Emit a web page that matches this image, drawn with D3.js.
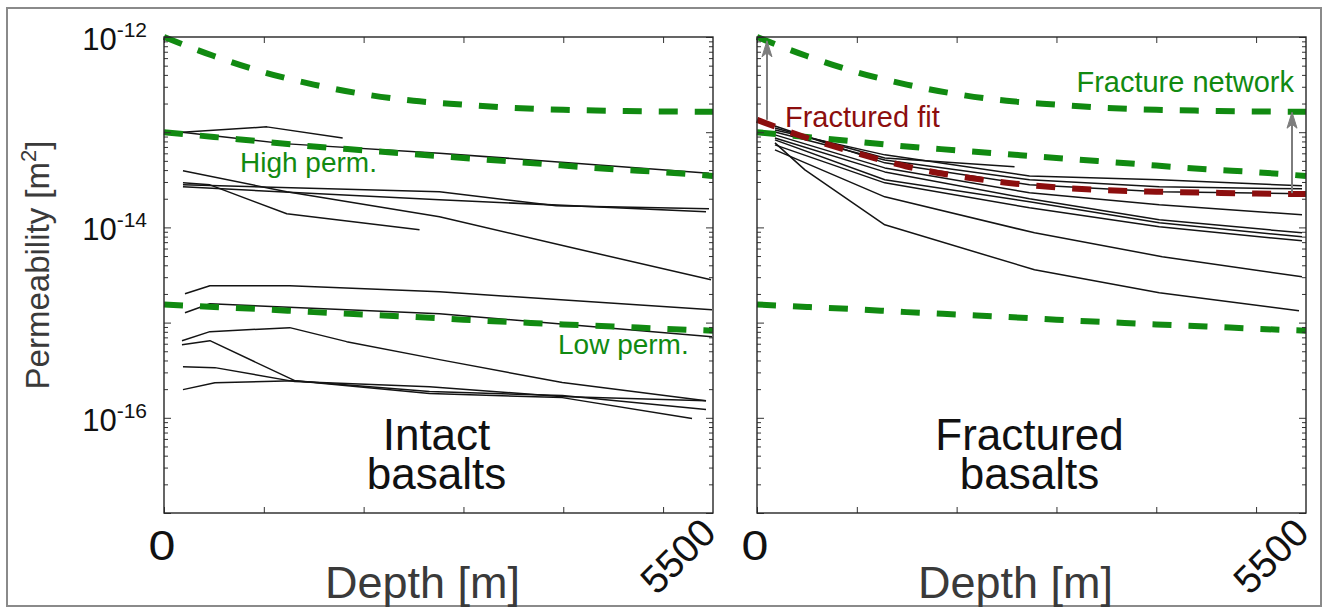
<!DOCTYPE html>
<html><head><meta charset="utf-8">
<script src="https://cdn.jsdelivr.net/npm/d3@7"></script>
<style>
body{margin:0;background:#fff}
svg{display:block}
text{font-family:"Liberation Sans",Arial,Helvetica,sans-serif}
</style>
</head><body>
<svg id="c" width="1328" height="608"></svg>
<script>
// ---------------- data (depth in m, permeability as log10 of m^2) ----------------
const depthGrid = [0,500,1000,1500,2000,2500,3000,3500,4000,4500,5000,5500];
const fractureNetworkLogK = [-12.00,-12.20,-12.37,-12.50,-12.60,-12.67,-12.71,-12.745,-12.765,-12.775,-12.782,-12.785];
const highPermLogK = [-13.00,-13.05,-13.10,-13.15,-13.19,-13.23,-13.27,-13.31,-13.35,-13.39,-13.42,-13.46];
const lowPermLogK = [-14.81,-14.835,-14.86,-14.89,-14.915,-14.94,-14.97,-14.995,-15.02,-15.04,-15.065,-15.085];
const fracturedFitLogK = [-12.87,-13.06,-13.22,-13.36,-13.46,-13.53,-13.58,-13.61,-13.625,-13.635,-13.645,-13.65];

const intactLines = [
  [[180,-13.0],[1030,-12.944],[1790,-13.06]],
  [[180,-13.0],[1200,-13.12],[2760,-13.22],[5460,-13.43]],
  [[190,-13.406],[1230,-13.626],[2760,-13.889],[4090,-14.214],[5480,-14.55]],
  [[190,-13.532],[460,-13.553],[1230,-13.857],[2560,-14.025]],
  [[190,-13.553],[2760,-13.626],[3930,-13.773],[5460,-13.805]],
  [[190,-13.574],[2760,-13.71],[5430,-13.836]],
  [[210,-14.697],[460,-14.613],[1260,-14.613],[2760,-14.676],[5490,-14.865]],
  [[210,-14.896],[460,-14.802],[2760,-14.907],[5490,-15.148]],
  [[180,-15.19],[460,-15.095],[1260,-15.053],[1830,-15.2],[2760,-15.389],[3990,-15.63],[5430,-15.82]],
  [[180,-15.232],[460,-15.19],[1310,-15.61],[2660,-15.746],[3990,-15.788],[5290,-16.008]],
  [[190,-15.463],[510,-15.473],[1310,-15.62],[2660,-15.673],[3970,-15.777],[5430,-15.82]],
  [[190,-15.704],[510,-15.631],[1310,-15.61],[2660,-15.725],[3990,-15.767],[5430,-15.914]]
];

const fracturedLines = [
  [[180,-12.955],[1280,-13.27],[2580,-13.364]],
  [[180,-12.976],[1280,-13.238],[2730,-13.459],[4030,-13.50],[5460,-13.563]],
  [[180,-12.997],[1280,-13.291],[2730,-13.50],[4030,-13.574],[5460,-13.595]],
  [[180,-12.934],[1280,-13.322],[2730,-13.553],[4030,-13.626],[5460,-13.647]],
  [[180,-13.028],[1280,-13.375],[2730,-13.637],[4030,-13.763],[5460,-13.868]],
  [[180,-13.06],[1280,-13.417],[2730,-13.70],[4030,-13.92],[5460,-14.057]],
  [[180,-13.081],[1280,-13.50],[2730,-13.731],[4030,-13.952],[5460,-14.099]],
  [[180,-13.133],[1280,-13.532],[2730,-13.794],[4030,-13.994],[5460,-14.141]],
  [[180,-13.186],[1280,-13.679],[2780,-14.057],[4060,-14.308],[5460,-14.518]],
  [[180,-13.112],[480,-13.396],[1280,-13.973],[2780,-14.445],[4030,-14.686],[5430,-14.875]]
];

const xTickValues = [0,1000,2000,3000,4000,5000];
const xLabelValues = [0,5500];
const xLabelTexts = ["0","5500"];
const yLabelExponents = [-12,-14,-16];
const arrowDepths = [100,5360];
const arrowFromLogK = [-12.87,-13.64];
const arrowToLogK = [-12.04,-12.79];
const panelTitles = [["Intact","basalts"],["Fractured","basalts"]];

// ---------------- drawing ----------------
const svg = d3.select("#c");
const GREEN = "#118a11", RED = "#8c0e0e", GRAY = "#7d7d7d", INK = "#141414";
const K = v => Math.pow(10, v);

svg.append("rect").attr("x",7).attr("y",8).attr("width",1314).attr("height",598)
  .attr("fill","none").attr("stroke","#8a8a8a").attr("stroke-width",2);

const yTop = 37, yBottom = 513;
const y = d3.scaleLog().domain([1e-17,1e-12]).range([yBottom, yTop]);
const panels = [{x0:164,x1:713},{x0:757,x1:1306}];

const majorY = d3.range(-17,-11).map(K);
const minorY = [];
for (let e=-17; e<-12; e++) for (let m=2; m<=9; m++) minorY.push(m*K(e));

panels.forEach((p,i) => {
  const x = d3.scaleLinear().domain([0,5500]).range([p.x0,p.x1]);
  const g = svg.append("g");
  const line = d3.line().x(d=>x(d[0])).y(d=>y(K(d[1])));
  const smooth = d3.line().curve(d3.curveMonotoneX).x(d=>x(d[0])).y(d=>y(K(d[1])));

  g.selectAll(null).data(i===0 ? intactLines : fracturedLines).join("path")
    .attr("d", line).attr("fill","none").attr("stroke", INK).attr("stroke-width",1.5)
    .attr("stroke-linejoin","round");

  [fractureNetworkLogK, highPermLogK, lowPermLogK].forEach(arr => {
    g.append("path").datum(depthGrid.map((d,j)=>[d,arr[j]]))
      .attr("d", smooth)
      .attr("fill","none").attr("stroke",GREEN).attr("stroke-width",6)
      .attr("stroke-dasharray","19,17");
  });

  if (i===1) {
    g.append("path").datum(depthGrid.map((d,j)=>[d,fracturedFitLogK[j]]))
      .attr("d", smooth)
      .attr("fill","none").attr("stroke",RED).attr("stroke-width",6)
      .attr("stroke-dasharray","19,17");
    arrowDepths.forEach((d,j) => {
      const ax = x(d), y0 = y(K(arrowFromLogK[j])), y1 = y(K(arrowToLogK[j]));
      g.append("line").attr("x1",ax).attr("x2",ax).attr("y1",y0).attr("y2",y1+8)
        .attr("stroke",GRAY).attr("stroke-width",2);
      g.append("path").attr("d",`M${ax},${y1} L${ax-5},${y1+16} L${ax},${y1+12} L${ax+5},${y1+16} Z`)
        .attr("fill",GRAY).attr("stroke",GRAY).attr("stroke-width",1);
    });
  }

  const axes = svg.append("g");
  const tick = (gen, tx, ty) => {
    const a = axes.append("g").attr("transform",`translate(${tx},${ty})`).call(gen);
    a.select(".domain").remove();
    a.selectAll("line").attr("stroke","#333").attr("stroke-width",1);
    a.selectAll("text").remove();
  };
  tick(d3.axisBottom(x).tickValues(xTickValues).tickSize(-6), 0, yBottom);
  tick(d3.axisTop(x).tickValues(xTickValues).tickSize(-6), 0, yTop);
  tick(d3.axisLeft(y).tickValues(majorY).tickSize(-7), p.x0, 0);
  tick(d3.axisLeft(y).tickValues(minorY).tickSize(-4), p.x0, 0);
  tick(d3.axisRight(y).tickValues(majorY).tickSize(-7), p.x1, 0);
  tick(d3.axisRight(y).tickValues(minorY).tickSize(-4), p.x1, 0);

  axes.append("rect").attr("x",p.x0).attr("y",yTop).attr("width",p.x1-p.x0).attr("height",yBottom-yTop)
    .attr("fill","none").attr("stroke","#262626").attr("stroke-width",1.4);

  xLabelValues.forEach((v,j) => {
    if (v===0) {
      svg.append("text").attr("transform",`translate(${x(v)-2},560) scale(1.15,1)`)
        .attr("text-anchor","middle")
        .attr("font-size",42).attr("fill","#111").text(xLabelTexts[j]);
    } else {
      svg.append("text").attr("transform",`translate(${x(v)+5},535) rotate(-45)`)
        .attr("text-anchor","end").attr("font-size",39).attr("fill","#111").text(xLabelTexts[j]);
    }
  });

  svg.append("text").attr("x",(p.x0+p.x1)/2-16).attr("y",598).attr("text-anchor","middle")
    .attr("font-size",45).attr("fill","#3a3a3a").text("Depth [m]");

  const cx = (p.x0+p.x1)/2 - 2;
  const title = svg.append("text").attr("text-anchor","middle")
    .attr("font-size",44).attr("fill","#111");
  panelTitles[i].forEach((t,j) => {
    title.append("tspan").attr("x",cx).attr("y",450+j*39).text(t);
  });

  if (i===0) {
    yLabelExponents.forEach(e => {
      const t = svg.append("text").attr("x",147).attr("y",y(K(e))+13).attr("text-anchor","end")
        .attr("fill","#111").attr("font-size",31);
      t.append("tspan").text("10");
      t.append("tspan").attr("dy",-13).attr("font-size",21).text(String(e));
    });
    svg.append("text").attr("x",240).attr("y",172).attr("font-size",28).attr("fill",GREEN)
      .text("High perm.");
    svg.append("text").attr("x",558).attr("y",354).attr("font-size",28).attr("fill",GREEN)
      .text("Low perm.");
  } else {
    svg.append("text").attr("x",1294).attr("y",92).attr("text-anchor","end")
      .attr("font-size",29).attr("fill",GREEN).text("Fracture network");
    svg.append("text").attr("x",785).attr("y",127).attr("font-size",29).attr("fill",RED)
      .text("Fractured fit");
  }
});

const yl = svg.append("text").attr("transform","translate(49,265) rotate(-90)")
  .attr("text-anchor","middle").attr("font-size",33).attr("fill","#3a3a3a");
yl.append("tspan").text("Permeability [m");
yl.append("tspan").attr("dy",-13).attr("font-size",22).text("2");
yl.append("tspan").attr("dy",13).text("]");
</script>
</body></html>
